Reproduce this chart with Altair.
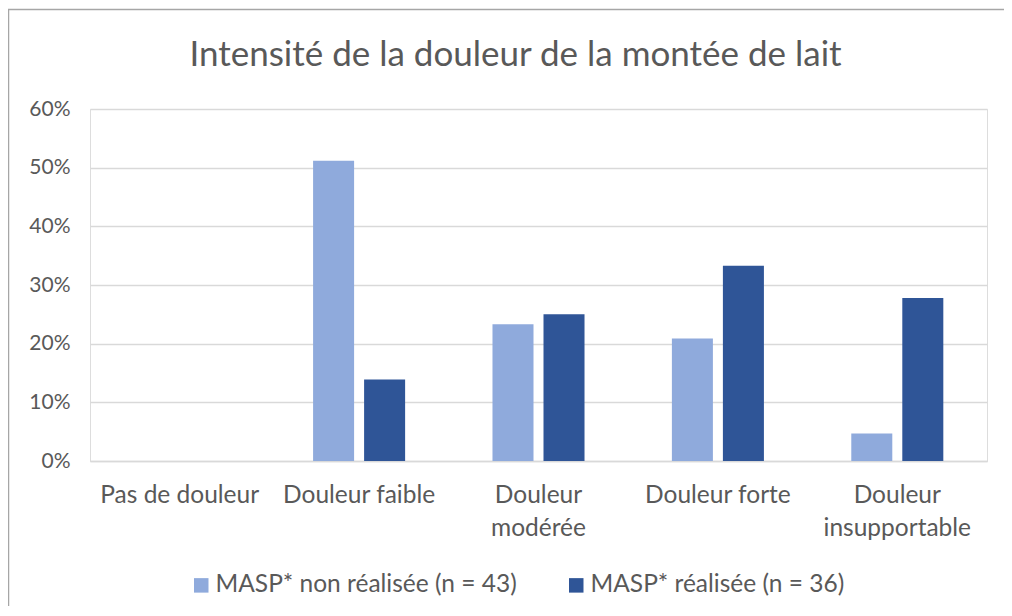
import altair as alt
import pandas as pd

title_text = "Intensité de la douleur de la montée de lait"
categories = ["Pas de douleur", "Douleur faible", "Douleur modérée", "Douleur forte", "Douleur insupportable"]
series = ["MASP* non réalisée (n = 43)", "MASP* réalisée (n = 36)"]
non_realisee = [0.0, 0.512, 0.233, 0.209, 0.047]
realisee = [0.0, 0.139, 0.25, 0.333, 0.278]
colors = ["#8FAADC", "#2F5597"]

rows = []
for c, a, b in zip(categories, non_realisee, realisee):
    rows.append({"cat": c, "serie": series[0], "val": a})
    rows.append({"cat": c, "serie": series[1], "val": b})
df = pd.DataFrame(rows)

FONT = "Lato"
TXT = "#595959"
W, H = 897, 352

bars = alt.Chart(df).mark_bar().encode(
    x=alt.X("cat:N", sort=categories, title=None,
            scale=alt.Scale(paddingInner=0.487, paddingOuter=0.2435),
            axis=alt.Axis(labelAngle=0, labelFontSize=24.5, labelColor=TXT, labelFont=FONT,
                          labelPadding=22, labelLineHeight=33, ticks=False, domain=True,
                          domainColor="#D9D9D9", domainWidth=1.5, labelLimit=300,
                          labelExpr="(indexof(datum.label,'modérée')>=0 || indexof(datum.label,'insupportable')>=0) ? split(datum.label,' ') : datum.label")),
    xOffset=alt.XOffset("serie:N", sort=series, scale=alt.Scale(paddingInner=0.196, paddingOuter=0)),
    y=alt.Y("val:Q", title=None,
            scale=alt.Scale(domain=[0, 0.6], nice=False),
            axis=alt.Axis(format=".0%", values=[0, 0.1, 0.2, 0.3, 0.4, 0.5, 0.6],
                          labelFontSize=21, labelColor=TXT, labelFont=FONT, labelPadding=20,
                          ticks=False, domain=False, gridColor="#D9D9D9", gridWidth=1.5)),
    color=alt.Color("serie:N", sort=series, scale=alt.Scale(domain=series, range=colors),
                    legend=alt.Legend(title=None, orient="none", direction="horizontal",
                                      legendX=99, legendY=464, symbolType="square",
                                      symbolSize=210, symbolStrokeWidth=0, labelFontSize=24.5,
                                      labelFont=FONT, labelColor=TXT, labelLimit=400,
                                      columnPadding=47, symbolOffset=0, labelOffset=2)),
)

one = pd.DataFrame({"t": [title_text]})
frame = alt.Chart(one).mark_rect(fill=None, stroke="#A6A6A6", strokeWidth=1.5).encode(
    x=alt.value(-81.5), y=alt.value(-99.5), x2=alt.value(W + 200), y2=alt.value(H + 300)
)
title = alt.Chart(one).mark_text(font=FONT, fontSize=35, color=TXT, align="center",
                                 baseline="alphabetic").encode(
    text="t:N", x=alt.value(425.5), y=alt.value(-43.3)
)

chart = alt.layer(frame, title, bars).properties(
    width=W, height=H,
    padding={"left": 82, "top": 101, "right": 17, "bottom": 145},
    autosize=alt.AutoSizeParams(type="none"),
).configure_view(stroke=None).configure(background="white")

chart.save("out.html", embed_options={"renderer": "svg", "actions": False})
